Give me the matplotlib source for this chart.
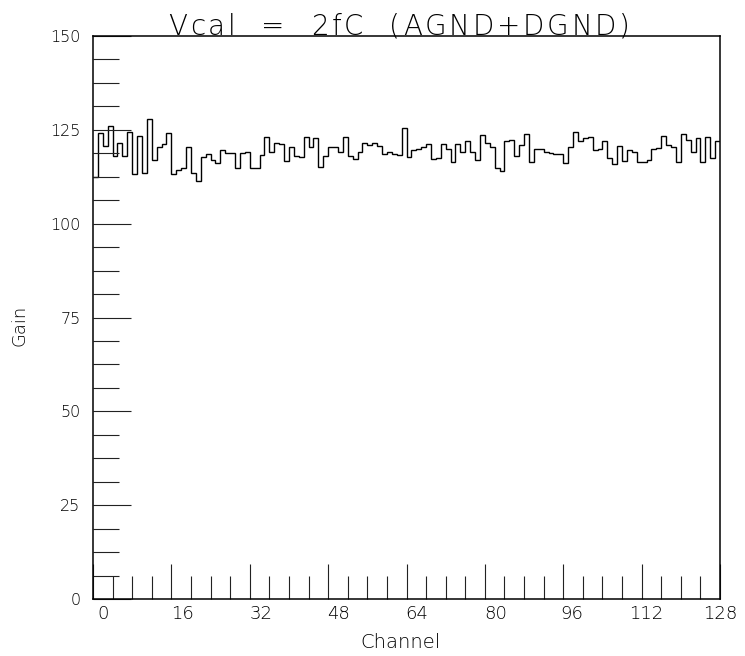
import numpy as np
import matplotlib.pyplot as plt
import matplotlib.transforms as mtransforms
from matplotlib.ticker import MultipleLocator

# gain per readout channel, 128 channels
gain = [
    112.5, 124.2, 120.8, 126.0, 117.9, 121.4, 118.0, 124.4,
    113.2, 123.4, 113.4, 127.8, 117.0, 120.4, 121.2, 124.2,
    113.2, 114.3, 114.8, 120.5, 113.4, 111.4, 117.7, 118.6,
    117.0, 116.1, 119.5, 118.7, 118.7, 114.8, 118.7, 119.2,
    114.8, 114.8, 118.3, 123.2, 119.0, 121.4, 121.2, 116.7,
    120.4, 118.1, 117.7, 123.2, 120.5, 122.9, 115.0, 118.1,
    120.3, 120.3, 119.2, 123.2, 118.1, 117.2, 119.2, 121.4,
    121.0, 121.6, 120.7, 118.6, 119.0, 118.6, 118.3, 125.4,
    117.7, 119.5, 119.9, 120.5, 121.2, 117.2, 117.4, 121.3,
    120.0, 116.5, 121.2, 119.0, 121.9, 119.2, 117.0, 123.6,
    121.6, 120.4, 114.9, 114.1, 121.9, 122.3, 118.0, 121.0,
    123.9, 116.3, 119.9, 119.9, 119.2, 118.9, 118.6, 118.5,
    116.1, 120.4, 124.5, 121.9, 122.7, 123.0, 119.6, 119.8,
    122.0, 117.4, 115.8, 120.8, 116.7, 119.6, 119.0, 116.3,
    116.3, 117.0, 119.9, 120.1, 123.4, 121.0, 120.5, 116.3,
    123.8, 122.3, 119.2, 122.7, 116.3, 123.0, 117.4, 122.1,
]
channel_edges = np.arange(len(gain) + 1)
title = 'Vcal  =  2fC  (AGND+DGND)'

plt.rcParams['font.weight'] = 'light'

W, H = 745, 656
fig = plt.figure(figsize=(W / 100, H / 100), dpi=100)
ax = fig.add_axes([93 / W, 1 - 599 / H, 627 / W, 563 / H])

ax.stairs(gain, channel_edges, baseline=None, color='black', lw=1.0)

ax.set_xlim(0, 128)
ax.set_ylim(0, 150)
ax.xaxis.set_major_locator(MultipleLocator(16))
ax.xaxis.set_minor_locator(MultipleLocator(4))
ax.yaxis.set_major_locator(MultipleLocator(25))
ax.yaxis.set_minor_locator(MultipleLocator(6.25))

for side in ax.spines.values():
    side.set_linewidth(1.1)

ax.tick_params(which='both', direction='in', top=False, right=False,
               color='#222222', width=0.8)
ax.tick_params(axis='y', which='major', length=27.4, pad=9, labelsize=11.5)
ax.tick_params(axis='y', which='minor', length=18.5)
ax.tick_params(axis='x', which='major', length=25.2, pad=4, labelsize=13)
ax.tick_params(axis='x', which='minor', length=16.8)

# x labels sit a little to the right of their ticks (pixels)
label_shift = [18, 10, 11, 11, 10, 10, 11, 8, 5]
for tick, dx in zip(ax.xaxis.get_major_ticks(), label_shift):
    shift = mtransforms.ScaledTranslation(dx / 100, 0, fig.dpi_scale_trans)
    tick.label1.set_transform(tick.label1.get_transform() + shift)


def tracked_text(s, x0, x1, baseline, size):
    """Write s letter by letter so that it spans x0..x1 pixels."""
    renderer = fig.canvas.get_renderer()

    def width(txt):
        t = fig.text(0, 0, txt, fontsize=size)
        w = t.get_window_extent(renderer).width
        t.remove()
        return w

    pad = width('||')
    adv = [width('|' + ch + '|') - pad for ch in s]
    track = (x1 - x0 - sum(adv)) / (len(s) - 1)
    x = x0
    for ch, a in zip(s, adv):
        fig.text(x / W, 1 - baseline / H, ch, fontsize=size,
                 ha='left', va='baseline')
        x += a + track


tracked_text(title, 168, 630, 35, 20)
fig.text(400 / W, 1 - 643 / H, 'Channel', ha='center', va='center', fontsize=14)
fig.text(19 / W, 1 - 325 / H, 'Gain', ha='center', va='center',
         rotation=90, fontsize=13)

fig.savefig('out.png', dpi=100)
